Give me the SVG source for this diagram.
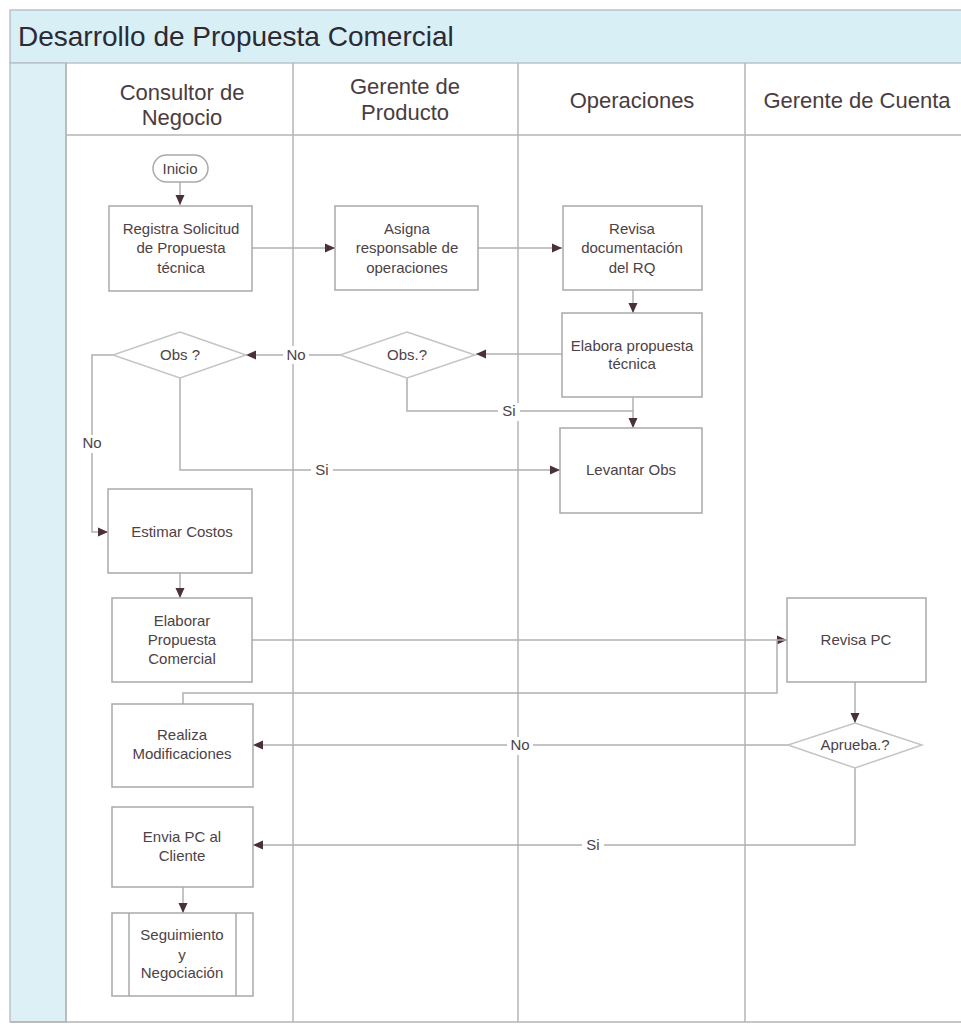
<svg xmlns="http://www.w3.org/2000/svg" width="961" height="1028" viewBox="0 0 961 1028">
  <style>
    .lane { stroke: #b4b4b4; stroke-width: 1.5; fill: none; }
    .box { fill: #ffffff; stroke: #a9a9a9; stroke-width: 1.5; }
    .dia { fill: #ffffff; stroke: #c4c4c4; stroke-width: 1.5; }
    .t { font-family: "Liberation Sans", Arial, sans-serif; font-size: 15px; fill: #4d4246; text-anchor: middle; }
    .hd { font-family: "Liberation Sans", Arial, sans-serif; font-size: 22px; fill: #4a3c40; text-anchor: middle; }
    .lbl { font-family: "Liberation Sans", Arial, sans-serif; font-size: 15px; fill: #4d4246; text-anchor: middle; }
    .con { stroke: #b0b0b0; stroke-width: 1.5; fill: none; }
  </style>
  <defs>
    <marker id="arr" markerUnits="userSpaceOnUse" markerWidth="10" markerHeight="10" refX="10" refY="5" orient="auto">
      <path d="M0,0.5 L10,5 L0,9.5 z" fill="#4a3038"/>
    </marker>
  </defs>

  <rect x="0" y="0" width="961" height="1028" fill="#ffffff"/>

  <!-- pool frame, title band and left strip -->
  <g id="pool">
    <rect x="10" y="10" width="960" height="53" fill="#d8eff6" stroke="#b8c4c8" stroke-width="1.5"/>
    <text x="18" y="46" font-family="Liberation Sans, Arial, sans-serif" font-size="28" fill="#2c2a32">Desarrollo de Propuesta Comercial</text>
    <rect x="10" y="63" width="56" height="959" fill="#dcf0f6" stroke="#b8c4c8" stroke-width="1.5"/>
    <line x1="10" y1="1022" x2="961" y2="1022" class="lane"/>
  </g>

  <!-- lanes -->
  <g id="lanes">
    <line x1="66" y1="63" x2="66" y2="1022" class="lane"/>
    <line x1="293" y1="63" x2="293" y2="1022" class="lane"/>
    <line x1="518" y1="63" x2="518" y2="1022" class="lane"/>
    <line x1="745" y1="63" x2="745" y2="1022" class="lane"/>
    <line x1="66" y1="135" x2="961" y2="135" class="lane"/>
    <text class="hd" x="182" y="100">Consultor de</text>
    <text class="hd" x="182" y="125">Negocio</text>
    <text class="hd" x="405" y="94">Gerente de</text>
    <text class="hd" x="405" y="120">Producto</text>
    <text class="hd" x="632" y="108">Operaciones</text>
    <text class="hd" x="857" y="108">Gerente de Cuenta</text>
  </g>

  <!-- connectors -->
  <g id="connectors">
    <path class="con" d="M180,182 V205" marker-end="url(#arr)"/>
    <path class="con" d="M252,248 H335" marker-end="url(#arr)"/>
    <path class="con" d="M478,248 H562" marker-end="url(#arr)"/>
    <path class="con" d="M633,290 V313" marker-end="url(#arr)"/>
    <path class="con" d="M562,354 H476" marker-end="url(#arr)"/>
    <path class="con" d="M633,397 V411"/>
    <path class="con" d="M407,378 V411 H633 V428" marker-end="url(#arr)"/>
    <path class="con" d="M340,355 H246" marker-end="url(#arr)"/>
    <path class="con" d="M113,355 H92 V532 H108" marker-end="url(#arr)"/>
    <path class="con" d="M180,378 V470 H560" marker-end="url(#arr)"/>
    <path class="con" d="M180,573 V598" marker-end="url(#arr)"/>
    <path class="con" d="M252,640 H787" marker-end="url(#arr)"/>
    <path class="con" d="M183,704 V693 H777 V640 H787"/>
    <path class="con" d="M855,682 V723" marker-end="url(#arr)"/>
    <path class="con" d="M788,745 H253" marker-end="url(#arr)"/>
    <path class="con" d="M855,768 V845 H253" marker-end="url(#arr)"/>
    <path class="con" d="M183,887 V913" marker-end="url(#arr)"/>
    <!-- labels -->
    <rect x="283" y="346" width="26" height="18" fill="#ffffff"/>
    <text class="lbl" x="296" y="360">No</text>
    <rect x="498" y="403" width="22" height="18" fill="#ffffff"/>
    <text class="lbl" x="509" y="416">Si</text>
    <rect x="80" y="435" width="24" height="18" fill="#ffffff"/>
    <text class="lbl" x="92" y="448">No</text>
    <rect x="311" y="462" width="22" height="18" fill="#ffffff"/>
    <text class="lbl" x="322" y="475">Si</text>
    <rect x="507" y="737" width="26" height="18" fill="#ffffff"/>
    <text class="lbl" x="520" y="750">No</text>
    <rect x="582" y="837" width="22" height="18" fill="#ffffff"/>
    <text class="lbl" x="593" y="850">Si</text>
  </g>

  <!-- nodes -->
  <g id="inicio">
    <rect x="153" y="155" width="55" height="27" rx="13.5" ry="13.5" class="box"/>
    <text class="t" x="180" y="173.5" font-size="14">Inicio</text>
  </g>
  <g id="registra">
    <rect x="109" y="206" width="143" height="85" class="box"/>
    <text class="t" x="181" y="234">Registra Solicitud</text>
    <text class="t" x="181" y="253">de Propuesta</text>
    <text class="t" x="181" y="273">técnica</text>
  </g>
  <g id="asigna">
    <rect x="335" y="206" width="143" height="84" class="box"/>
    <text class="t" x="407" y="234">Asigna</text>
    <text class="t" x="407" y="253">responsable de</text>
    <text class="t" x="407" y="273">operaciones</text>
  </g>
  <g id="revisa-doc">
    <rect x="563" y="206" width="139" height="84" class="box"/>
    <text class="t" x="632" y="234">Revisa</text>
    <text class="t" x="632" y="253">documentación</text>
    <text class="t" x="632" y="273">del RQ</text>
  </g>
  <g id="elabora-tecnica">
    <rect x="562" y="313" width="140" height="84" class="box"/>
    <text class="t" x="632" y="351">Elabora propuesta</text>
    <text class="t" x="632" y="369">técnica</text>
  </g>
  <g id="levantar-obs">
    <rect x="560" y="428" width="142" height="85" class="box"/>
    <text class="t" x="631" y="475">Levantar Obs</text>
  </g>
  <g id="obs-gp">
    <polygon points="407,332 475,355 407,378 340,355" class="dia"/>
    <text class="t" x="407" y="360">Obs.?</text>
  </g>
  <g id="obs-cn">
    <polygon points="180,332 246,355 180,378 113,355" class="dia"/>
    <text class="t" x="180" y="360">Obs ?</text>
  </g>
  <g id="estimar">
    <rect x="108" y="489" width="144" height="84" class="box"/>
    <text class="t" x="182" y="537">Estimar Costos</text>
  </g>
  <g id="elaborar-pc">
    <rect x="112" y="598" width="140" height="84" class="box"/>
    <text class="t" x="182" y="626">Elaborar</text>
    <text class="t" x="182" y="645">Propuesta</text>
    <text class="t" x="182" y="664">Comercial</text>
  </g>
  <g id="revisa-pc">
    <rect x="787" y="598" width="139" height="84" class="box"/>
    <text class="t" x="856" y="645">Revisa PC</text>
  </g>
  <g id="aprueba">
    <polygon points="855,723 922,745 855,768 788,745" class="dia"/>
    <text class="t" x="855" y="750">Aprueba.?</text>
  </g>
  <g id="realiza">
    <rect x="112" y="704" width="141" height="83" class="box"/>
    <text class="t" x="182" y="740">Realiza</text>
    <text class="t" x="182" y="759">Modificaciones</text>
  </g>
  <g id="envia">
    <rect x="112" y="807" width="141" height="80" class="box"/>
    <text class="t" x="182" y="842">Envia PC al</text>
    <text class="t" x="182" y="861">Cliente</text>
  </g>
  <g id="seguimiento">
    <rect x="112" y="913" width="141" height="83" class="box"/>
    <line x1="129" y1="913" x2="129" y2="996" stroke="#a9a9a9" stroke-width="1.5"/>
    <line x1="236" y1="913" x2="236" y2="996" stroke="#a9a9a9" stroke-width="1.5"/>
    <text class="t" x="182" y="940">Seguimiento</text>
    <text class="t" x="182" y="960">y</text>
    <text class="t" x="182" y="978">Negociación</text>
  </g>
</svg>
